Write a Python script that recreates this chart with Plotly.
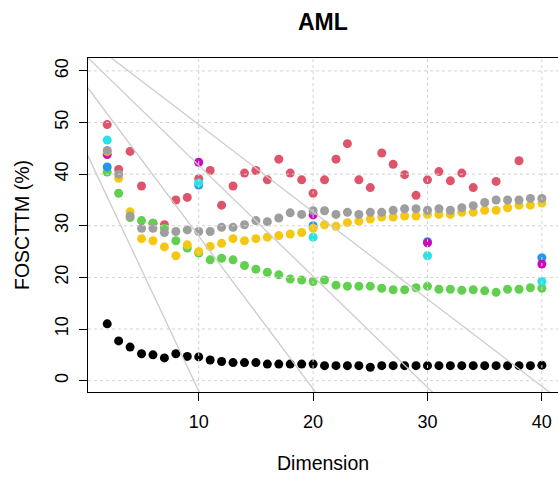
import plotly.graph_objects as go

# ---- data ----
dims = list(range(2, 41))

black = [11.0, 7.7, 6.5, 5.2, 5.0, 4.4, 5.2, 4.7, 4.6, 4.0, 3.7, 3.5, 3.5, 3.5, 3.2, 3.2, 3.2, 3.2, 3.2,
         2.9, 2.9, 2.9, 2.9, 2.6, 2.9, 2.9, 2.9, 2.9, 2.9, 2.9, 2.9, 2.9, 2.9, 2.9, 2.9, 2.9, 2.9, 2.9, 3.0]

red_x = list(range(2, 35)) + [36, 38]
red = [49.6, 40.9, 44.4, 37.7, 30.5, 30.2, 35.0, 35.5, 39.1, 40.7, 34.0, 37.7, 40.2, 40.7, 38.9, 42.9,
       40.2, 38.9, 36.3, 38.9, 42.9, 45.9, 38.9, 37.4, 44.1, 41.9, 39.9, 35.9, 38.9, 40.5, 38.7, 40.2,
       37.4, 38.6, 42.6]

green = [40.4, 36.3, 31.6, 31.0, 30.5, 29.5, 27.1, 25.7, 24.7, 23.4, 23.7, 23.4, 22.3, 21.6, 21.0, 20.5,
         19.7, 19.5, 19.2, 19.5, 18.5, 18.3, 18.3, 18.3, 17.9, 17.6, 17.6, 18.0, 18.3, 17.7, 17.7, 17.5,
         17.6, 17.4, 17.1, 17.7, 17.7, 18.0, 17.9]

sparse_x = [2, 10, 20, 30, 40]
blue = [41.4, 37.9, 30.0, 26.9, 23.8]
cyan = [46.6, 38.3, 27.8, 24.2, 19.2]
magenta = [43.8, 42.3, 32.1, 26.7, 22.6]

yellow = [44.4, 39.2, 32.7, 27.5, 27.1, 25.9, 24.2, 26.3, 25.0, 26.0, 26.6, 27.5, 27.1, 27.5, 27.8, 28.1,
          28.4, 28.7, 29.5, 30.2, 29.9, 30.6, 30.9, 31.3, 31.7, 31.7, 31.9, 31.9, 32.2, 32.2, 32.2, 32.6,
          32.6, 33.0, 33.0, 33.5, 34.0, 34.0, 34.4]

gray = [44.6, 40.0, 31.9, 29.5, 29.5, 28.7, 28.9, 29.2, 28.9, 28.9, 29.7, 29.7, 30.2, 31.0, 30.8, 31.5,
        32.5, 32.2, 32.9, 32.9, 32.2, 32.6, 32.2, 32.6, 32.6, 33.0, 33.3, 33.3, 33.0, 33.3, 33.0, 33.5,
        33.9, 34.5, 35.0, 35.0, 35.0, 35.3, 35.3]

# reference diagonal lines: y = intercept + slope * x
line_intercepts = [45.0, 57.6, 63.2, 66.5]
line_slopes = [-4.70, -2.96, -2.15, -1.69]

x_ticks = [10, 20, 30, 40]
y_ticks = [0, 10, 20, 30, 40, 50, 60]

X_RANGE = [0.32, 41.41]
Y_RANGE = [-2.2, 62.5]

# ---- figure ----
fig = go.Figure()

series = [
    (dims, black, "#000000"),
    (red_x, red, "#DF536B"),
    (dims, green, "#61D04F"),
    (sparse_x, blue, "#2297E6"),
    (sparse_x, cyan, "#28E2E5"),
    (sparse_x, magenta, "#CD0BBC"),
    (dims, yellow, "#F5C710"),
    (dims, gray, "#9E9E9E"),
]
for xs, ys, col in series:
    fig.add_trace(go.Scatter(x=xs, y=ys, mode="markers",
                             marker=dict(color=col, size=9, line=dict(width=0)),
                             showlegend=False, hoverinfo="skip"))

for a, b in zip(line_intercepts, line_slopes):
    xs = [X_RANGE[0] - 1, X_RANGE[1] + 1]
    fig.add_trace(go.Scatter(x=xs, y=[a + b * v for v in xs], mode="lines",
                             line=dict(color="#cccccc", width=1.3),
                             showlegend=False, hoverinfo="skip"))

# dotted grid drawn above points (as R's grid())
shapes = []
for t in x_ticks:
    shapes.append(dict(type="line", xref="x", yref="paper", x0=t, x1=t, y0=0, y1=1,
                       line=dict(color="#d3d3d3", width=1, dash="dot"), layer="above"))
for t in y_ticks:
    shapes.append(dict(type="line", xref="paper", yref="y", x0=0, x1=1, y0=t, y1=t,
                       line=dict(color="#d3d3d3", width=1, dash="dot"), layer="above"))

font_family = "Liberation Sans, Arial, Helvetica, sans-serif"

fig.update_layout(
    width=558, height=480,
    margin=dict(l=88, r=0, t=58, b=88),
    paper_bgcolor="white", plot_bgcolor="white",
    font=dict(family=font_family, color="black", size=18),
    shapes=shapes,
    xaxis=dict(range=X_RANGE, tickvals=x_ticks, ticks="outside", ticklen=8, tickwidth=1.2,
               tickcolor="black", showline=True, linecolor="black", linewidth=1.3, mirror=True,
               showgrid=False, zeroline=False, tickfont=dict(size=18), ticklabelstandoff=5),
    yaxis=dict(range=Y_RANGE, tickvals=y_ticks, ticks="outside", ticklen=8, tickwidth=1.2,
               tickcolor="black", showline=True, linecolor="black", linewidth=1.3,
               showgrid=False, zeroline=False, tickangle=-90, tickfont=dict(size=18),
               ticklabelstandoff=4),
    annotations=[
        dict(text="<b>AML</b>", xref="paper", yref="paper", x=0.5, y=1 + (58 - 22) / 334,
             xanchor="center", yanchor="middle", showarrow=False, font=dict(size=23)),
        dict(text="Dimension", xref="paper", yref="paper", x=0.5, y=-(463 - 392) / 334,
             xanchor="center", yanchor="middle", showarrow=False, font=dict(size=19.5)),
        dict(text="FOSCTTM (%)", xref="paper", yref="paper", x=(22 - 88) / 470, y=0.5,
             xanchor="center", yanchor="middle", showarrow=False, textangle=-90,
             font=dict(size=19.5)),
    ],
)

fig.write_html("out.html")
